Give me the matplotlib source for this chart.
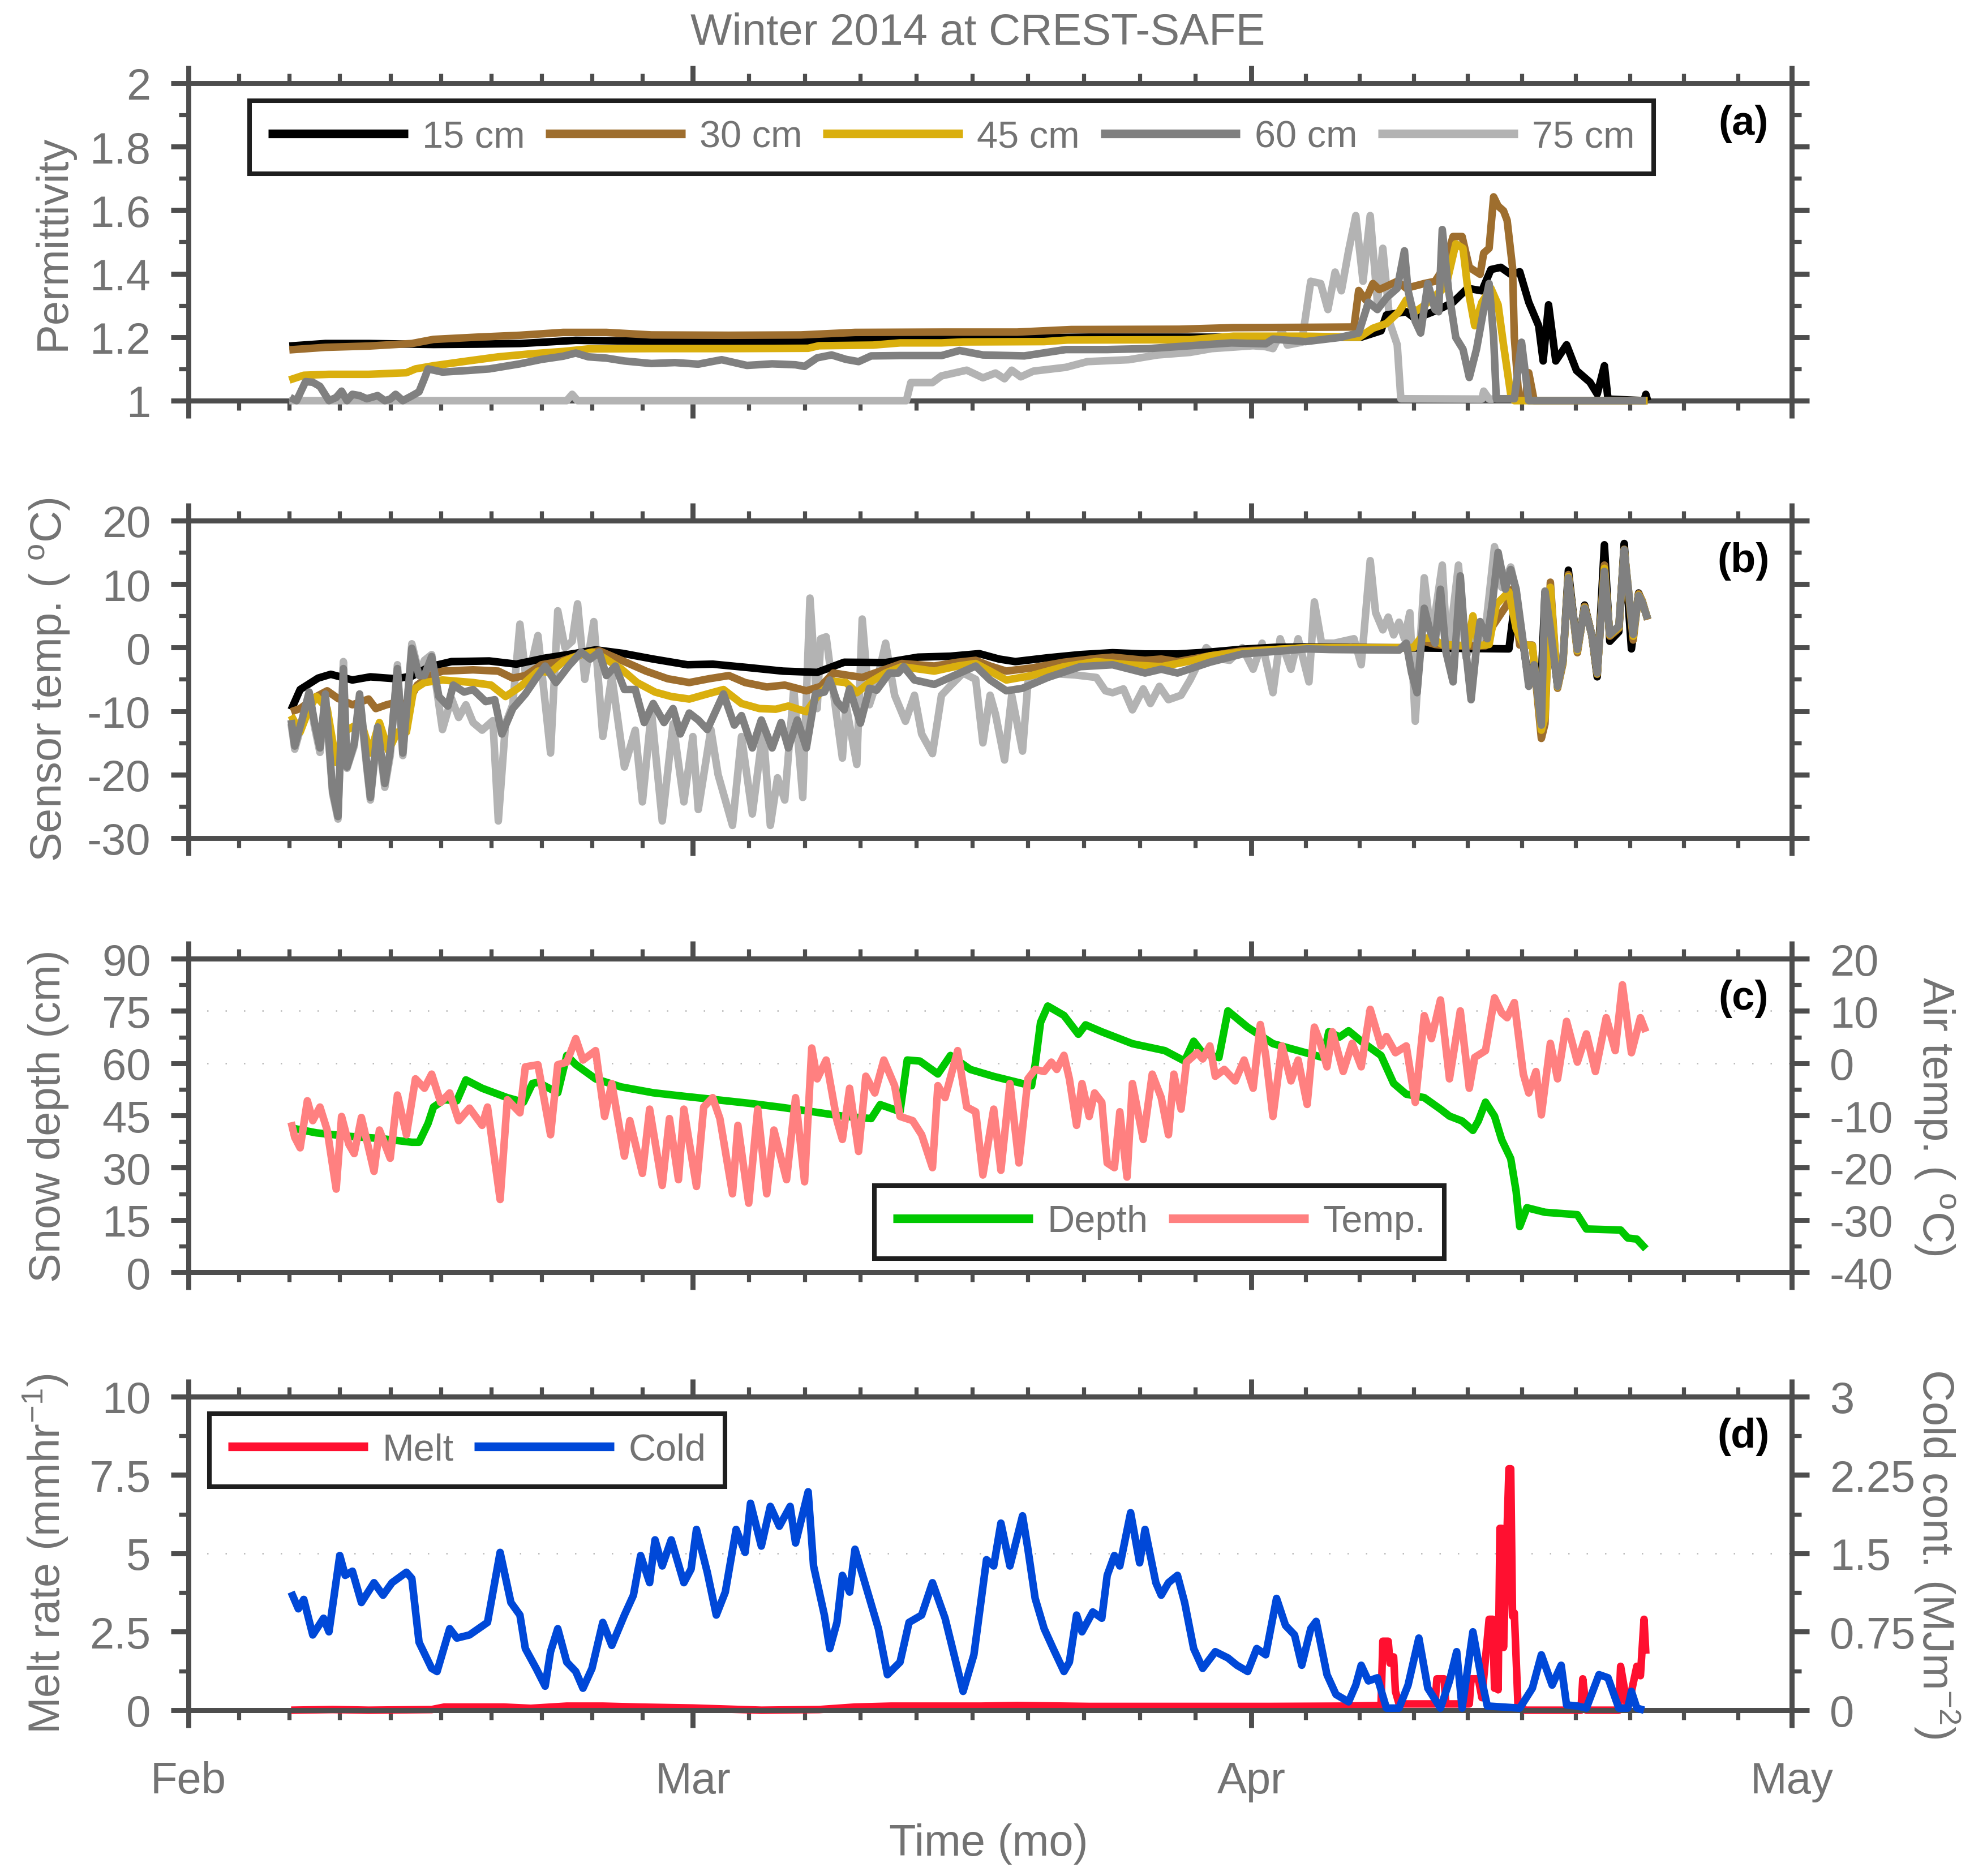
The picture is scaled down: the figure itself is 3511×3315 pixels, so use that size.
import numpy as np
import matplotlib
matplotlib.use('Agg')
import matplotlib.pyplot as plt

plt.rcParams['font.family'] = ['Liberation Sans', 'DejaVu Sans']
plt.rcParams['mathtext.fontset'] = 'custom'
plt.rcParams['mathtext.rm'] = 'Liberation Sans'
plt.rcParams['mathtext.it'] = 'Liberation Sans:italic'
plt.rcParams['mathtext.bf'] = 'Liberation Sans:bold'
plt.rcParams['axes.unicode_minus'] = False

# ---------------- data (time = days since 1 Feb 2014) ----------------
month_days = [0, 28, 59, 89]
month_labels = ['Feb', 'Mar', 'Apr', 'May']

# (a) permittivity
perm15 = [(5.6,1.172),(7.6,1.18),(10,1.18),(12.4,1.178),(13.6,1.177),(16,1.178),(18.4,1.18),(21.5,1.19),
          (25.7,1.187),(30,1.187),(35,1.188),(37.5,1.195),(40,1.197),(45,1.197),(50,1.2),(55,1.2),(60,1.2),
          (65.1,1.2),(66.2,1.22),(66.5,1.27),(67.6,1.28),(68.1,1.258),(69.4,1.287),(70.2,1.31),(71.0,1.354),
          (71.8,1.346),(72.3,1.413),(72.85,1.42),(73.4,1.398),(73.9,1.406),(74.4,1.31),(74.95,1.236),(75.2,1.125),
          (75.5,1.302),(75.9,1.125),(76.5,1.176),(77.05,1.095),(77.8,1.058),(78.2,1.021),(78.6,1.11),(78.8,1.005),
          (80.8,1.0),(80.9,1.02),(81.0,1.0)]
perm30 = [(5.6,1.16),(7.6,1.168),(10,1.172),(12.4,1.18),(13.6,1.193),(16,1.20),(18.4,1.206),(20.8,1.215),
          (23.2,1.215),(25.7,1.207),(30,1.206),(34,1.207),(37,1.215),(42,1.216),(46,1.216),(49,1.224),(55,1.225),
          (58,1.23),(62,1.231),(64.7,1.232),(64.96,1.347),(65.35,1.317),(65.75,1.369),(66.1,1.35),(66.5,1.36),
          (67.1,1.376),(67.6,1.354),(68.6,1.369),(69.2,1.376),(69.7,1.42),(70.2,1.517),(70.7,1.517),(71.1,1.42),
          (71.7,1.398),(71.9,1.465),(72.2,1.48),(72.45,1.642),(72.7,1.613),(73.0,1.598),(73.2,1.568),(73.5,1.42),
          (73.6,1.2),(73.85,1.007),(74.2,1.005),(74.4,1.088),(74.7,1.0),(81.0,1.0)]
perm45 = [(5.6,1.065),(6.4,1.08),(7.8,1.083),(10,1.083),(12.1,1.088),(12.6,1.10),(13.6,1.11),(15.5,1.125),
          (17.2,1.138),(18.9,1.147),(20.8,1.155),(22.2,1.163),(25.7,1.164),(30,1.164),(34.4,1.165),(35,1.173),
          (38,1.175),(39.5,1.182),(41.8,1.182),(43,1.185),(47.5,1.186),(48.8,1.191),(55.6,1.192),(58,1.203),
          (62,1.203),(65,1.2),(65.75,1.228),(66.5,1.243),(67.2,1.28),(67.6,1.317),(68.1,1.28),(68.6,1.30),
          (69.2,1.33),(69.8,1.36),(70.35,1.494),(70.75,1.48),(71.0,1.36),(71.4,1.236),(71.8,1.31),(72.3,1.354),
          (72.7,1.302),(73.0,1.176),(73.4,1.02),(73.6,1.0),(81.0,1.0)]
perm60 = [(5.65,1.01),(6.0,1.0),(6.5,1.06),(6.9,1.058),(7.3,1.045),(7.8,1.0),(8.2,1.01),(8.5,1.03),(8.8,1.0),
          (9.1,1.02),(9.5,1.016),(9.9,1.006),(10.5,1.016),(10.9,1.0),(11.2,1.005),(11.5,1.02),(11.9,1.0),
          (12.4,1.015),(12.8,1.028),(13.1,1.07),(13.3,1.10),(14.1,1.09),(15.5,1.095),(16.7,1.10),(18.4,1.116),
          (19.6,1.13),(20.8,1.14),(21.5,1.15),(22.2,1.138),(23.2,1.134),(24.2,1.125),(25.7,1.117),(27.0,1.12),
          (28.3,1.115),(29.6,1.129),(31.0,1.111),(32.4,1.116),(33.7,1.113),(34.2,1.108),(34.9,1.135),(35.7,1.144),
          (36.5,1.13),(37.2,1.123),(37.9,1.141),(39.5,1.142),(41.8,1.142),(42.8,1.158),(44.1,1.144),(46.4,1.141),
          (48.7,1.161),(51.0,1.161),(53.3,1.164),(55.6,1.173),(57.9,1.182),(59.8,1.179),(60.2,1.194),(62,1.186),
          (63.9,1.199),(64.96,1.213),(65.5,1.31),(66.0,1.287),(66.5,1.324),(67.1,1.354),(67.5,1.472),(67.7,1.347),
          (68.1,1.25),(68.4,1.213),(68.8,1.369),(69.2,1.287),(69.4,1.28),(69.6,1.539),(69.95,1.347),(70.35,1.199),
          (70.75,1.162),(71.1,1.073),(71.5,1.162),(71.9,1.287),(72.2,1.369),(72.45,1.2),(72.6,1.006),(73.6,1.006),
          (74.0,1.184),(74.4,1.0),(80.9,1.0)]
perm75 = [(5.6,1.0),(21.0,1.0),(21.3,1.02),(21.6,1.0),(39.85,1.0),(40.1,1.057),(41.3,1.057),(41.8,1.078),
          (43.2,1.096),(44.1,1.072),(44.8,1.087),(45.3,1.069),(45.7,1.096),(46.2,1.075),(46.9,1.093),(48.7,1.105),
          (49.9,1.123),(52.2,1.129),(53.8,1.144),(55.6,1.152),(56.8,1.164),(59.1,1.173),(59.8,1.17),(60.2,1.164),
          (60.7,1.22),(61.0,1.175),(61.8,1.184),(62.3,1.376),(62.85,1.369),(63.25,1.287),(63.65,1.405),(64.0,1.346),
          (64.4,1.472),(64.8,1.583),(65.2,1.376),(65.6,1.583),(66.0,1.31),(66.3,1.48),(66.7,1.243),(67.1,1.176),
          (67.3,1.006),(71.8,1.005),(71.9,1.03),(72.2,1.005),(72.45,1.005)]

# (b) sensor temperature (deg C)
temp15 = [(5.7,-9.8),(6.2,-6.6),(7.2,-4.8),(7.9,-4.2),(9.1,-5.1),(10.1,-4.6),(11.5,-4.9),(12.4,-4.5),(13.4,-3.0),
          (14.6,-2.2),(16.7,-2.1),(18.2,-2.6),(19.8,-1.65),(21.5,-0.9),(22.6,-0.35),(24.1,-0.9),(25.8,-1.8),
          (27.7,-2.7),(29.1,-2.6),(31.1,-3.15),(33.0,-3.7),(34.9,-3.9),(36.4,-2.3),(38.7,-2.35),(40.5,-1.5),
          (42.3,-1.35),(43.9,-0.95),(45.0,-1.8),(45.9,-2.2),(47.7,-1.6),(49.5,-1.1),(51.3,-0.8),(53.1,-1.0),
          (54.9,-1.0),(56.7,-0.7),(58.5,-0.25),(60.3,0.05),(62.1,0.1),(66,0.0),(70,-0.1),(73.3,-0.2),(73.6,6.5),
          (73.9,3.0),(74.1,0.5),(74.4,-5.5),(74.7,-2.5),(75.1,-5.0),(75.3,8.5),(75.6,3.0),(76.0,-6.0),(76.3,-2.0),
          (76.6,12.2),(77.1,-0.5),(77.5,6.7),(77.9,2.0),(78.2,-4.6),(78.6,16.2),(78.9,1.0),(79.4,2.5),(79.7,16.4),
          (79.9,8.0),(80.1,-0.2),(80.5,8.6),(80.7,7.2),(81.0,4.5)]
temp30 = [(5.7,-10.1),(6.2,-9.6),(7.1,-7.7),(7.7,-6.8),(8.3,-8.0),(9.1,-9.0),(10.0,-8.1),(10.4,-9.6),(11.0,-9.0),
          (11.7,-8.5),(12.1,-9.2),(12.7,-5.9),(13.4,-4.4),(14.1,-3.7),(15.8,-3.5),(17.2,-3.7),(18.0,-4.8),
          (18.7,-4.4),(19.6,-2.7),(20.6,-2.2),(21.8,-1.1),(22.8,-0.5),(24.2,-2.2),(25.4,-3.7),(26.6,-4.9),
          (27.8,-5.5),(28.9,-4.9),(30.0,-4.4),(30.9,-5.5),(32.1,-6.2),(33.1,-5.9),(34.3,-6.8),(35.1,-6.1),
          (35.8,-4.0),(36.7,-4.4),(37.4,-4.7),(38.7,-3.4),(39.6,-2.5),(41.4,-2.9),(42.7,-2.3),(43.7,-2.0),
          (44.5,-2.9),(45.4,-3.7),(46.8,-3.2),(48.6,-2.3),(50.4,-1.7),(51.3,-1.5),(53.1,-2.0),(54.0,-1.8),
          (54.9,-2.2),(56.7,-1.3),(58.5,-0.5),(60.3,-0.3),(62.1,0.0),(68,0.0),(68.6,1.0),(69.2,0.5),(70,0.2),
          (72.0,0.3),(72.4,3.4),(73.2,6.8),(73.5,9.2),(73.9,0.4),(74.6,0.4),(75.1,-14.3),(75.3,-12.0),(75.6,10.3),
          (76.0,-6.4),(76.3,-2.5),(76.6,11.5),(77.1,-0.8),(77.5,6.5),(77.9,2.0),(78.2,-4.2),(78.6,13.0),(78.9,1.8),
          (79.4,3.0),(79.7,15.5),(79.9,9.5),(80.2,1.2),(80.5,8.5),(80.7,7.4),(81.0,4.4)]
temp45 = [(5.7,-10.7),(6.2,-13.3),(6.7,-9.6),(7.1,-7.7),(7.7,-9.6),(8.2,-18.1),(8.6,-13.3),(9.1,-12.5),
          (9.6,-11.8),(10.1,-16.6),(10.6,-11.8),(11.1,-16.2),(11.6,-13.3),(12.1,-13.3),(12.5,-6.6),(13.1,-5.5),
          (14.1,-5.1),(15.8,-5.5),(16.8,-5.9),(17.6,-7.7),(18.4,-6.2),(19.4,-3.7),(20.1,-3.9),(20.8,-2.2),
          (21.8,-1.1),(22.4,-0.7),(23.0,-1.5),(24.0,-3.3),(24.9,-5.5),(25.9,-7.0),(26.8,-7.7),(27.8,-8.1),
          (28.8,-7.3),(29.7,-6.6),(30.7,-8.8),(31.7,-9.6),(32.6,-9.7),(33.3,-9.2),(34.3,-10.1),(35.0,-7.3),
          (35.8,-5.3),(36.5,-5.5),(37.1,-7.1),(37.8,-5.5),(38.7,-4.0),(39.6,-3.0),(41.4,-3.7),(42.7,-2.9),
          (43.7,-2.5),(44.5,-3.7),(45.4,-5.1),(46.8,-4.4),(48.6,-3.0),(50.4,-2.2),(52.2,-2.7),(54.0,-3.0),
          (55.8,-2.0),(56.7,-1.3),(58.5,-0.7),(60.3,-0.3),(62.1,0.0),(68,0.0),(68.4,1.5),(69.0,1.5),(69.6,0.5),
          (71.0,0.3),(71.3,5.0),(71.6,0.3),(72.2,0.5),(72.6,6.8),(73.3,8.8),(73.7,3.0),(74.1,0.5),(74.6,0.3),
          (75.1,-13.0),(75.3,-11.0),(75.6,9.5),(76.0,-6.2),(76.3,-2.2),(76.6,11.2),(77.1,-0.5),(77.5,6.3),
          (77.9,2.0),(78.2,-4.1),(78.6,12.5),(78.9,2.0),(79.4,3.2),(79.7,15.4),(79.9,10.0),(80.2,1.8),(80.5,8.3),
          (80.7,7.3),(81.0,4.5)]
temp60 = [(5.7,-11.4),(5.9,-15.5),(6.3,-11.4),(6.7,-7.0),(7.0,-11.8),(7.3,-15.8),(7.6,-7.3),(8.0,-22.5),
          (8.3,-26.6),(8.6,-3.3),(8.8,-18.8),(9.2,-15.1),(9.5,-7.3),(9.9,-18.4),(10.1,-23.6),(10.5,-12.5),
          (10.9,-21.4),(11.2,-16.2),(11.6,-3.3),(11.9,-16.6),(12.4,-0.1),(12.8,-4.4),(13.1,-4.4),(13.5,-1.4),
          (13.9,-7.7),(14.4,-9.2),(14.7,-5.9),(15.3,-7.0),(15.8,-6.6),(16.5,-8.5),(17.0,-8.2),(17.4,-13.6),
          (18.0,-9.6),(18.7,-7.3),(19.3,-4.8),(19.8,-2.9),(20.4,-5.5),(21.1,-2.9),(21.8,-0.7),(22.3,-1.8),
          (22.8,-0.7),(23.2,-4.4),(23.7,-2.9),(24.2,-6.6),(24.8,-6.6),(25.3,-11.8),(25.8,-8.8),(26.4,-11.8),
          (26.9,-9.6),(27.3,-13.6),(27.8,-10.3),(28.3,-11.4),(28.8,-12.9),(29.7,-7.3),(30.3,-12.2),(30.7,-10.7),
          (31.3,-15.8),(31.8,-11.4),(32.4,-15.8),(32.9,-11.8),(33.3,-15.8),(33.8,-11.4),(34.3,-15.8),(34.8,-7.3),
          (35.3,-7.0),(35.6,-5.1),(36.0,-8.5),(36.4,-9.8),(36.7,-6.5),(37.3,-11.9),(37.8,-6.4),(38.2,-6.7),
          (38.9,-4.0),(39.4,-4.0),(39.7,-3.0),(40.3,-5.1),(41.4,-5.8),(42.5,-4.4),(43.7,-2.9),(44.5,-5.1),
          (45.4,-6.8),(46.3,-6.4),(47.7,-4.7),(49.5,-3.0),(51.3,-2.7),(53.1,-4.0),(54.0,-3.4),(54.9,-4.0),
          (56.7,-2.3),(58.5,-1.0),(60.3,-0.6),(62.1,-0.2),(63.4,-0.3),(67.2,-0.4),(67.6,0.7),(67.9,-4.0),
          (68.2,-7.1),(68.6,6.2),(68.9,2.8),(69.2,0.7),(69.5,9.2),(69.8,-0.6),(70.2,-5.4),(70.6,11.3),(70.9,-0.3),
          (71.2,-8.2),(71.5,0.0),(71.7,4.1),(72.1,1.4),(72.4,7.5),(72.7,15.0),(73.1,9.2),(73.4,12.3),(73.7,9.2),
          (74.1,0.7),(74.4,-6.1),(74.7,-2.7),(75.1,-12.2),(75.3,8.9),(75.6,3.1),(76.0,-6.1),(76.3,-2.0),
          (76.6,11.0),(77.1,-0.3),(77.5,6.2),(77.9,2.0),(78.2,-4.0),(78.6,12.0),(78.9,2.1),(79.4,3.4),(79.7,15.4),
          (79.9,10.0),(80.2,2.1),(80.5,8.2),(80.7,7.2),(81.0,4.5)]
temp75 = [(5.7,-12),(5.9,-16),(6.3,-12),(6.7,-7.5),(7.0,-12.5),(7.3,-16.5),(7.6,-8),(8.0,-23),(8.3,-27),
          (8.6,-2.2),(8.8,-19),(9.2,-15.5),(9.5,-8),(9.9,-19),(10.1,-24),(10.5,-13),(10.9,-22),(11.2,-17),
          (11.6,-2.7),(11.9,-17),(12.4,0.6),(12.8,-4),(13.1,-2),(13.5,-1.1),(14.1,-12.9),(14.6,-8),(15.0,-11),
          (15.4,-9),(15.8,-11.8),(16.3,-13),(16.9,-11.5),(17.2,-27.3),(17.6,-12),(18.0,-9),(18.4,3.7),(18.7,-4),
          (19.0,-3),(19.4,1.9),(20.1,-16.6),(20.5,5.8),(20.9,0),(21.3,1),(21.6,6.9),(22.0,-5),(22.5,4.1),
          (23.0,-14),(23.5,-4.5),(24.2,-18.8),(24.8,-13),(25.2,-24.3),(25.7,-10),(26.3,-27.3),(26.9,-12),
          (27.5,-24.3),(28.0,-14),(28.3,-25.5),(29.0,-12.9),(29.4,-20),(30.2,-28),(30.7,-14),(31.3,-26.2),
          (31.9,-12.9),(32.3,-28),(32.7,-20.5),(33.1,-24),(33.6,-6.5),(34.1,-23.6),(34.5,7.8),(34.9,-9.6),
          (35.1,1.4),(35.4,1.7),(35.8,-7),(36.3,-17.4),(36.5,-9),(37.1,-18.4),(37.4,4.5),(37.8,-9),(38.2,-5.5),
          (38.7,0.7),(39.2,-7.5),(39.8,-11.6),(40.3,-7.5),(40.7,-13.6),(41.3,-16.7),(41.8,-7.5),(42.3,-6),
          (43.0,-4),(43.7,-5),(44.1,-15),(44.5,-7.5),(44.8,-10.5),(45.3,-17.7),(45.7,-7.5),(46.3,-16.3),
          (46.6,-5.5),(47.0,-4),(48.0,-4.1),(49.2,-4.3),(50.4,-4.7),(50.9,-6.8),(51.3,-7.1),(51.9,-6.5),
          (52.4,-9.8),(53.0,-6.5),(53.4,-8.8),(53.9,-6.1),(54.4,-8.2),(55.1,-7.5),(55.6,-5.1),(56.5,0.0),
          (57.1,-1.7),(57.8,-2),(58.5,0),(59.1,-3.4),(59.6,0.7),(60.2,-7.1),(60.6,1.4),(61.2,-3.4),(61.6,1.4),
          (62.2,-5.4),(62.5,7.2),(62.9,0.7),(63.6,0.7),(64.7,1.4),(65.1,-2.7),(65.6,13.7),(65.9,5.5),(66.3,2.8),
          (66.6,4.8),(66.9,2),(67.2,4),(67.5,1.4),(67.8,5.5),(68.1,-11.6),(68.6,11.0),(69.0,1.4),(69.6,13.0),
          (69.9,-1.5),(70.5,13.0),(70.9,-1.5),(71.4,1.4),(71.9,0.4),(72.5,15.9),(72.9,9.5),(73.4,12.7),(73.7,9)]

# (c) snow depth (cm) and air temperature (deg C)
snow_depth = [(5.7,41.4),(7.1,40.0),(8.9,39.0),(10.6,38.4),(12.4,37.3),(12.8,37.3),(13.3,42.7),(13.6,47.4),
              (14.2,49.5),(14.9,49.2),(15.4,55.2),(16.3,52.8),(17.7,50.1),(18.6,48.8),(19.1,54.2),(19.4,54.5),
              (20.5,51.5),(21.0,62.2),(21.5,59.6),(22.6,55.5),(24.0,53.2),(25.8,51.5),(27.5,50.5),(29.3,49.5),
              (31.1,48.5),(32.8,47.4),(34.6,46.1),(36.3,44.8),(37.9,44.1),(38.4,48.1),(39.5,46.1),(39.9,60.9),
              (40.6,60.6),(41.6,56.9),(42.3,62.2),(43.4,58.2),(44.7,56.2),(46.8,53.5),(47.0,59.6),(47.3,71.7),
              (47.7,76.4),(48.6,73.7),(49.4,68.3),(49.8,71.0),(50.7,69.0),(52.4,65.6),(54.2,63.6),(55.3,60.6),
              (55.8,66.3),(56.3,62.9),(57.2,61.6),(57.7,75.0),(58.8,70.3),(60.2,65.6),(61.6,63.6),(63.0,61.6),
              (63.3,69.0),(63.9,67.5),(64.4,69.3),(65.1,66.3),(66.2,62.2),(66.9,54.2),(67.6,51.1),(68.6,50.1),
              (69.5,46.8),(70.0,44.8),(70.7,43.4),(71.3,40.7),(71.6,43.4),(72.0,48.8),(72.5,44.8),(72.9,38.0),
              (73.4,32.6),(73.7,23.2),(73.9,13.1),(74.3,18.5),(75.3,17.2),(77.1,16.5),(77.6,12.4),(79.5,12.1),
              (79.9,9.8),(80.4,9.5),(80.9,6.7)]
air_temp = [(5.7,-11.3),(5.9,-14.2),(6.2,-16.2),(6.6,-7.2),(6.9,-11.0),(7.3,-8.4),(7.7,-12.8),(8.2,-24.1),
            (8.5,-10.2),(8.9,-15.5),(9.2,-17.3),(9.6,-10.4),(10.3,-20.7),(10.6,-12.8),(11.2,-18.2),(11.6,-6.1),
            (12.1,-13.7),(12.6,-3.0),(13.1,-4.8),(13.5,-2.1),(14.0,-7.5),(14.5,-5.7),(15.0,-11.0),(15.6,-8.6),
            (16.3,-11.9),(16.6,-8.4),(17.3,-26.1),(17.7,-7.0),(18.4,-9.5),(18.7,-0.7),(19.4,-0.3),(20.1,-13.7),
            (20.5,-0.3),(21.0,0.2),(21.5,4.7),(21.9,0.6),(22.6,2.4),(23.1,-10.2),(23.5,-3.9),(24.2,-17.8),
            (24.5,-11.0),(25.2,-21.1),(25.6,-8.8),(26.3,-23.4),(26.7,-10.6),(27.2,-22.3),(27.5,-8.8),(28.2,-23.6),
            (28.6,-8.4),(29.1,-6.6),(29.5,-10.6),(30.2,-25.0),(30.5,-11.9),(31.1,-26.8),(31.6,-8.8),(32.1,-25.0),
            (32.5,-12.8),(33.2,-22.3),(33.7,-6.6),(34.2,-22.7),(34.6,2.9),(34.9,-3.0),(35.4,0.6),(36.0,-11.0),
            (36.3,-14.6),(36.7,-4.8),(37.2,-16.9),(37.6,-2.5),(38.1,-5.7),(38.6,0.6),(39.2,-4.3),(39.5,-10.2),
            (40.2,-11.0),(40.7,-13.7),(41.3,-20.0),(41.6,-4.3),(42.0,-6.6),(42.7,2.4),(43.2,-8.4),(43.7,-9.3),
            (44.1,-21.4),(44.7,-8.8),(45.1,-20.5),(45.6,-3.9),(46.1,-19.1),(46.6,-3.0),(47.0,-1.2),(47.5,-1.6),
            (47.9,0.2),(48.2,-1.2),(48.6,1.5),(48.9,-3.0),(49.3,-11.9),(49.6,-3.9),(50.0,-10.2),(50.3,-5.7),
            (50.7,-7.5),(51.0,-19.1),(51.4,-20.0),(51.7,-9.3),(52.1,-21.8),(52.4,-3.9),(53.0,-14.6),(53.5,-2.1),
            (54.0,-6.6),(54.4,-13.7),(54.7,-2.1),(55.1,-8.8),(55.4,0.2),(56.0,2.0),(56.3,0.8),(56.7,3.3),
            (57.0,-2.5),(57.5,-1.2),(58.1,-3.4),(58.6,0.6),(59.1,-4.8),(59.5,7.4),(59.8,1.5),(60.2,-10.2),
            (60.7,3.3),(61.2,-3.4),(61.6,0.6),(62.1,-7.9),(62.5,6.9),(62.8,4.2),(63.2,-0.7),(63.5,6.0),(64.1,-1.6),
            (64.6,3.8),(65.1,-0.7),(65.6,10.3),(66.2,3.3),(66.5,5.1),(67.0,2.0),(67.6,3.3),(68.1,-7.5),(68.6,9.1),
            (69.0,4.7),(69.5,12.1),(70.0,-3.0),(70.6,10.0),(71.1,-4.8),(71.4,1.1),(72.0,2.4),(72.5,12.5),(72.9,9.6),
            (73.2,8.7),(73.6,11.6),(74.1,-2.1),(74.4,-5.7),(74.8,-1.6),(75.1,-9.9),(75.6,3.8),(76.0,-3.0),(76.5,8.0),
            (77.1,0.2),(77.6,5.6),(78.1,-1.6),(78.7,8.7),(79.2,2.4),(79.6,15.0),(80.1,2.0),(80.6,8.7),(80.9,6.0)]

# (d) melt rate (mm/hr) and cold content (MJ/m2)
melt_rate = [(5.7,0.0),(8,0.02),(10,0.0),(13.5,0.02),(14.2,0.1),(17.5,0.1),(19,0.06),(21,0.13),(23,0.13),
             (25,0.1),(28,0.07),(31.8,0.0),(35,0.02),(37,0.1),(39,0.13),(44,0.13),(46,0.15),(50,0.12),(55,0.12),
             (60,0.12),(64,0.13),(66.2,0.15),(66.3,2.2),(66.6,2.2),(66.7,1.5),(66.9,1.7),(67.0,0.6),(67.2,0.2),
             (69.2,0.2),(69.3,1.0),(69.7,1.0),(69.8,0.2),(71.1,0.2),(71.2,1.0),(71.6,1.0),(71.8,0.4),(72.2,2.9),
             (72.4,2.9),(72.5,0.7),(72.6,1.7),(72.7,0.65),(72.8,5.8),(72.9,5.8),(73.0,2.0),(73.3,7.7),(73.4,7.7),
             (73.5,3.0),(73.6,3.1),(73.8,0.2),(74.2,0.0),(77.3,0.0),(77.4,1.0),(77.6,0.0),(79.4,0.0),(79.5,1.4),
             (79.9,0.05),(80.4,1.4),(80.6,1.1),(80.8,2.9),(80.9,1.8)]
cold_content = [(5.7,1.13),(6.1,0.97),(6.4,1.06),(6.9,0.72),(7.5,0.88),(7.8,0.75),(8.4,1.48),(8.7,1.29),(9.1,1.33),
                (9.6,1.03),(10.3,1.22),(10.8,1.10),(11.3,1.22),(12.1,1.32),(12.4,1.26),(12.8,0.65),(13.5,0.40),
                (13.8,0.37),(14.5,0.78),(14.9,0.69),(15.6,0.72),(16.6,0.84),(17.3,1.51),(17.9,1.03),(18.4,0.91),
                (18.7,0.59),(19.3,0.40),(19.8,0.23),(20.1,0.56),(20.5,0.78),(21.0,0.46),(21.5,0.37),(21.9,0.21),
                (22.4,0.40),(23.0,0.84),(23.5,0.62),(24.2,0.91),(24.7,1.10),(25.1,1.48),(25.6,1.22),(25.9,1.63),
                (26.3,1.38),(26.8,1.63),(27.5,1.22),(27.9,1.35),(28.2,1.73),(28.8,1.32),(29.3,0.91),(29.8,1.13),
                (30.4,1.73),(30.9,1.51),(31.2,1.98),(31.8,1.57),(32.3,1.95),(32.8,1.76),(33.4,1.95),(33.7,1.60),
                (34.4,2.09),(34.7,1.38),(35.3,0.91),(35.6,0.59),(36.0,0.84),(36.3,1.29),(36.7,1.13),(37.0,1.54),
                (37.7,1.13),(38.3,0.78),(38.8,0.34),(39.5,0.46),(40.0,0.84),(40.7,0.91),(41.3,1.22),(42.0,0.88),
                (42.5,0.53),(43.0,0.18),(43.6,0.53),(44.3,1.44),(44.7,1.38),(45.1,1.79),(45.6,1.38),(46.3,1.86),
                (46.6,1.54),(47.0,1.07),(47.5,0.78),(48.0,0.59),(48.6,0.37),(48.9,0.46),(49.3,0.91),(49.6,0.75),
                (50.2,0.94),(50.7,0.88),(51.0,1.29),(51.4,1.48),(51.7,1.38),(52.3,1.89),(52.8,1.41),(53.1,1.73),
                (53.7,1.22),(54.0,1.10),(54.4,1.22),(54.9,1.29),(55.3,1.03),(55.8,0.59),(56.3,0.40),(57.0,0.56),
                (57.7,0.50),(58.2,0.43),(58.8,0.37),(59.3,0.59),(59.8,0.53),(60.4,1.07),(60.9,0.81),(61.4,0.72),
                (61.8,0.43),(62.3,0.78),(62.6,0.85),(63.2,0.34),(63.7,0.15),(64.4,0.08),(64.8,0.24),(65.1,0.43),
                (65.5,0.28),(66.0,0.31),(66.5,0.02),(67.2,0.02),(67.7,0.24),(68.3,0.69),(68.8,0.21),(69.5,0.02),
                (70.0,0.28),(70.4,0.56),(70.7,0.02),(71.3,0.75),(71.8,0.28),(72.1,0.04),(73.9,0.02),(74.6,0.21),
                (75.1,0.53),(75.7,0.24),(76.2,0.43),(76.5,0.05),(77.1,0.04),(77.6,0.02),(78.3,0.34),(78.8,0.31),
                (79.4,0.02),(79.9,0.02),(80.1,0.18),(80.4,0.02),(80.8,0.0)]

# ---------------- style ----------------
TXT = '#737373'
SP = '#4d4d4d'
C15, C30, C45, C60, C75 = '#000000', '#9e6e2e', '#daaf0e', '#808080', '#b3b3b3'
CDEP, CTMP, CMELT, CCOLD = '#00c800', '#ff8080', '#ff1030', '#0048d8'
LW = 4.8
FS = 28

fig = plt.figure(figsize=(17.56, 16.58), dpi=200)
left, width = 0.09482, 0.80666
ax_a = fig.add_axes([left, 0.78619, width, 0.16918])
ax_b = fig.add_axes([left, 0.55308, width, 0.16918])
ax_c = fig.add_axes([left, 0.32177, width, 0.16707])
ax_d = fig.add_axes([left, 0.08836, width, 0.16707])

minor_x = []
for m0, m1 in zip(month_days[:-1], month_days[1:]):
    for k in range(1, 10):
        minor_x.append(m0 + (m1 - m0) * k / 10.0)


def style(ax, ylim, major, minor, labels, right_ticks=True, xlabels=False):
    ax.set_xlim(0, 89)
    ax.set_ylim(*ylim)
    ax.set_xticks(month_days)
    ax.set_xticks(minor_x, minor=True)
    ax.set_xticklabels(month_labels if xlabels else [])
    ax.set_yticks(major)
    ax.set_yticks(minor, minor=True)
    ax.set_yticklabels(labels)
    for s in ax.spines.values():
        s.set_color(SP)
        s.set_linewidth(3.2)
        s.set_zorder(2.5)
    ax.tick_params(which='both', direction='out', colors=SP, labelcolor=TXT, labelsize=FS,
                   top=True, bottom=True, left=True, right=right_ticks)
    ax.tick_params(which='major', length=11, width=3.2)
    ax.tick_params(which='minor', length=6, width=2.6)
    ax.tick_params(axis='y', pad=13)
    ax.tick_params(axis='x', pad=21)


def style_right(ax2, ylim, major, minor, labels):
    ax2.set_ylim(*ylim)
    ax2.set_yticks(major)
    ax2.set_yticks(minor, minor=True)
    ax2.set_yticklabels(labels)
    for s in ax2.spines.values():
        s.set_color(SP)
        s.set_linewidth(3.2)
    ax2.tick_params(axis='y', which='both', direction='out', colors=SP, labelcolor=TXT, labelsize=FS,
                    left=False, right=True, labelright=True, labelleft=False, pad=13)
    ax2.tick_params(axis='y', which='major', length=11, width=3.2)
    ax2.tick_params(axis='y', which='minor', length=6, width=2.6)


def plot_series(ax, pairs, color, z, label=None):
    arr = np.array(pairs, dtype=float)
    ln, = ax.plot(arr[:, 0], arr[:, 1], color=color, lw=LW, zorder=z, clip_on=False,
                  solid_joinstyle='round', solid_capstyle='butt', label=label)
    return ln


def legend(ax, handles, anchor, ncol):
    leg = ax.legend(handles=handles, loc='upper left', bbox_to_anchor=anchor, ncol=ncol, fontsize=24,
                    frameon=True, fancybox=False, framealpha=1, borderpad=0.5, handlelength=3.7,
                    handletextpad=0.38, columnspacing=0.55, borderaxespad=0)
    leg.get_frame().set_edgecolor('#1e1e1e')
    leg.get_frame().set_linewidth(2.9)
    for t in leg.get_texts():
        t.set_color(TXT)
    for l in leg.get_lines():
        l.set_linewidth(5.5)
    leg.set_zorder(20)
    return leg


def ylab_left(ax, text, x):
    ax.set_ylabel(text, fontsize=FS, color=TXT)
    ax.yaxis.set_label_coords(x, 0.5)
    ax.yaxis.label.set_va('baseline')


def ylab_right(ax2, text, x):
    ax2.set_ylabel(text, fontsize=FS, color=TXT, rotation=270)
    ax2.yaxis.set_label_coords(x, 0.5)
    ax2.yaxis.label.set_rotation_mode('anchor')
    ax2.yaxis.label.set_va('baseline')
    ax2.yaxis.label.set_ha('center')


def panel_label(ax, s):
    ax.text(0.970, 0.873, s, transform=ax.transAxes, ha='center', va='center', fontsize=26,
            fontweight='bold', color='black', zorder=30)


# ---- (a) ----
style(ax_a, (1, 2), [1, 1.2, 1.4, 1.6, 1.8, 2], np.arange(1.1, 2.0, 0.2),
      ['1', '1.2', '1.4', '1.6', '1.8', '2'])
l75 = plot_series(ax_a, perm75, C75, 3, '75 cm')
l15 = plot_series(ax_a, perm15, C15, 4, '15 cm')
l30 = plot_series(ax_a, perm30, C30, 5, '30 cm')
l45 = plot_series(ax_a, perm45, C45, 6, '45 cm')
l60 = plot_series(ax_a, perm60, C60, 7, '60 cm')
legend(ax_a, [l15, l30, l45, l60, l75], (0.038, 0.945), 5)
ylab_left(ax_a, 'Permittivity', -0.077)
panel_label(ax_a, '(a)')

# ---- (b) ----
style(ax_b, (-30, 20), [-30, -20, -10, 0, 10, 20], np.arange(-25, 20, 10),
      ['-30', '-20', '-10', '0', '10', '20'])
plot_series(ax_b, temp75, C75, 3)
plot_series(ax_b, temp15, C15, 4)
plot_series(ax_b, temp30, C30, 5)
plot_series(ax_b, temp45, C45, 6)
plot_series(ax_b, temp60, C60, 7)
ylab_left(ax_b, r'Sensor temp. ( $^{\mathrm{o}}$C)', -0.079)
panel_label(ax_b, '(b)')

# ---- (c) ----
style(ax_c, (0, 90), [0, 15, 30, 45, 60, 75, 90], np.arange(7.5, 90, 15),
      ['0', '15', '30', '45', '60', '75', '90'], right_ticks=False)
for gy in (60, 75):
    ax_c.axhline(gy, color='#b8b8b8', lw=0.9, ls=(0, (1, 12)), zorder=1)
ax_c2 = ax_c.twinx()
style_right(ax_c2, (-40, 20), [-40, -30, -20, -10, 0, 10, 20], np.arange(-35, 20, 10),
            ['-40', '-30', '-20', '-10', '0', '10', '20'])
ld = plot_series(ax_c, snow_depth, CDEP, 4, 'Depth')
lt = plot_series(ax_c2, air_temp, CTMP, 4, 'Temp.')
legend(ax_c2, [ld, lt], (0.4278, 0.276), 2)
ylab_left(ax_c, 'Snow depth (cm)', -0.080)
ylab_right(ax_c2, r'Air temp. ( $^{\mathrm{o}}$C)', 1.0815)
panel_label(ax_c2, '(c)')

# ---- (d) ----
style(ax_d, (0, 10), [0, 2.5, 5, 7.5, 10], np.arange(1.25, 10, 2.5),
      ['0', '2.5', '5', '7.5', '10'], right_ticks=False, xlabels=True)
ax_d.axhline(5, color='#b8b8b8', lw=0.9, ls=(0, (1, 12)), zorder=1)
ax_d2 = ax_d.twinx()
style_right(ax_d2, (0, 3), [0, 0.75, 1.5, 2.25, 3], np.arange(0.375, 3, 0.75),
            ['0', '0.75', '1.5', '2.25', '3'])
lm = plot_series(ax_d, melt_rate, CMELT, 4, 'Melt')
lc = plot_series(ax_d2, cold_content, CCOLD, 4, 'Cold')
legend(ax_d2, [lm, lc], (0.0131, 0.946), 2)
ylab_left(ax_d, r'Melt rate (mmhr$^{-1}$)', -0.080)
ylab_right(ax_d2, r'Cold cont. (MJm$^{-2}$)', 1.0815)
panel_label(ax_d2, '(d)')

fig.text(0.492, 1 - 79 / 3316, 'Winter 2014 at CREST-SAFE', ha='center', va='baseline',
         fontsize=28, color=TXT)
fig.text(0.4975, 1 - 3279 / 3316, 'Time (mo)', ha='center', va='baseline', fontsize=28, color=TXT)

fig.savefig('out.png', dpi=200, facecolor='white')
